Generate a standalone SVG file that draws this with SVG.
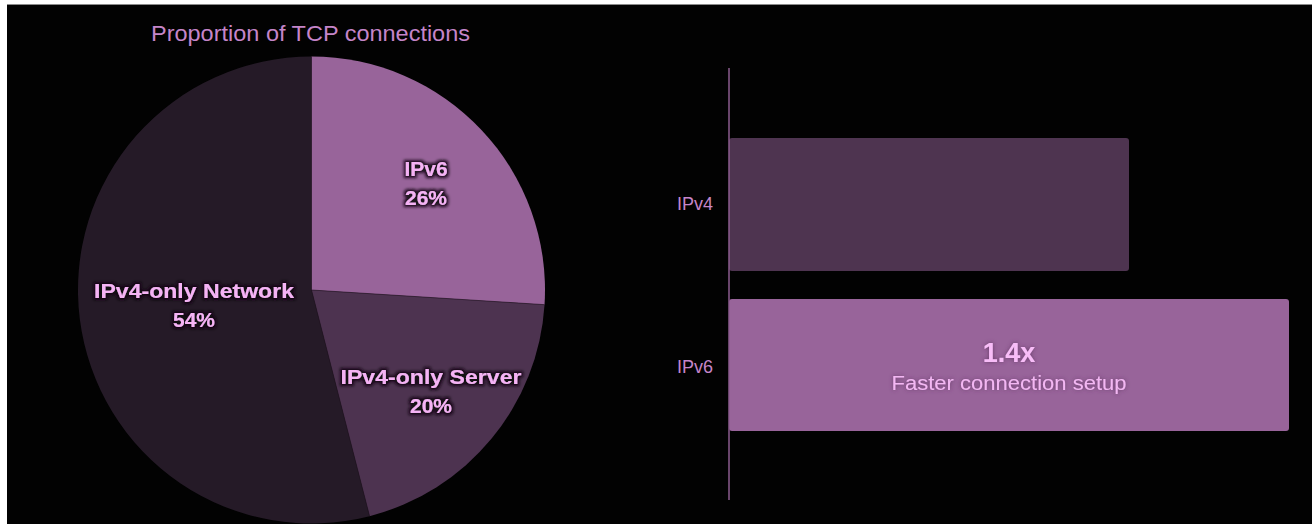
<svg xmlns="http://www.w3.org/2000/svg" width="1312" height="524" viewBox="0 0 1312 524">
  <style>
    .title { font-family: "Liberation Sans", Arial, sans-serif; font-size: 22px; fill: #c585c9; }
    .plabel { font-family: "Liberation Sans", Arial, sans-serif; font-size: 21px; font-weight: bold; fill: #f5b3f5; text-anchor: middle; }
    .axlabel { font-family: "Liberation Sans", Arial, sans-serif; font-size: 18px; fill: #c585c9; text-anchor: end; }
    .big { font-family: "Liberation Sans", Arial, sans-serif; font-size: 27px; font-weight: bold; fill: #f8bdf8; text-anchor: middle; }
    .sub { font-family: "Liberation Sans", Arial, sans-serif; font-size: 20px; fill: #f3b7f3; text-anchor: middle; }
  </style>
  <defs>
    <filter id="glow" x="-20%" y="-40%" width="140%" height="180%">
      <feMorphology in="SourceAlpha" operator="dilate" radius="1.5" result="d"/>
      <feGaussianBlur in="d" stdDeviation="1.5" result="b"/>
      <feFlood flood-color="#120812" flood-opacity="0.9"/>
      <feComposite in2="b" operator="in" result="s"/>
      <feMerge><feMergeNode in="s"/><feMergeNode in="SourceGraphic"/></feMerge>
    </filter>
    <filter id="soft" x="-20%" y="-40%" width="140%" height="180%">
      <feGaussianBlur in="SourceAlpha" stdDeviation="2" result="b"/>
      <feFlood flood-color="#5a2f5c" flood-opacity="0.8"/>
      <feComposite in2="b" operator="in" result="s"/>
      <feMerge><feMergeNode in="s"/><feMergeNode in="SourceGraphic"/></feMerge>
    </filter>
  </defs>

  <rect x="0" y="0" width="1312" height="524" fill="#ffffff"/>
  <rect x="7" y="4" width="1305" height="520" fill="#8a8a8a"/>
  <rect x="7" y="5" width="1305" height="519" fill="#020202"/>

  <text id="title" class="title" x="151" y="41" textLength="319" lengthAdjust="spacingAndGlyphs">Proportion of TCP connections</text>

  <g id="pie">
    <g id="slice-network">
      <path d="M311.5 290 L369.57 516.16 A233.5 233.5 0 1 1 311.5 56.5 Z" fill="#251a27"/>
    </g>
    <g id="slice-server">
      <path d="M311.5 290 L544.54 304.66 A233.5 233.5 0 0 1 369.57 516.16 Z" fill="#4d3350"/>
    </g>
    <g id="slice-ipv6">
      <path d="M311.5 290 L311.5 56.5 A233.5 233.5 0 0 1 544.54 304.66 Z" fill="#98649a"/>
    </g>
    <path d="M311.5 56.5 L311.5 290 L544.54 304.66 M311.5 290 L369.57 516.16" fill="none" stroke="#1c111d" stroke-width="1" stroke-opacity="0.6"/>
  </g>

  <g id="label-ipv6" filter="url(#glow)">
    <text class="plabel" x="426" y="176">IPv6</text>
    <text class="plabel" x="426" y="205">26%</text>
  </g>
  <g id="label-network" filter="url(#glow)">
    <text class="plabel" x="194" y="298" textLength="200" lengthAdjust="spacingAndGlyphs">IPv4-only Network</text>
    <text class="plabel" x="194" y="327">54%</text>
  </g>
  <g id="label-server" filter="url(#glow)">
    <text class="plabel" x="431" y="384" textLength="181" lengthAdjust="spacingAndGlyphs">IPv4-only Server</text>
    <text class="plabel" x="431" y="413">20%</text>
  </g>

  <g id="bar-chart">
    <g id="bar-ipv4">
      <rect x="729" y="138" width="400" height="133" rx="3" fill="#4e3450"/>
      <text class="axlabel" x="713" y="210">IPv4</text>
    </g>
    <g id="bar-ipv6">
      <rect x="729" y="299" width="560" height="132" rx="3" fill="#98649a"/>
      <text class="axlabel" x="713" y="373">IPv6</text>
      <g filter="url(#soft)">
        <text class="big" x="1009" y="362">1.4x</text>
        <text class="sub" x="1009" y="390" textLength="235" lengthAdjust="spacingAndGlyphs">Faster connection setup</text>
      </g>
    </g>
  </g>

  <g id="connectors">
    <line x1="729" y1="68" x2="729" y2="500" stroke="#8c5c8f" stroke-width="1.5"/>
  </g>
</svg>
